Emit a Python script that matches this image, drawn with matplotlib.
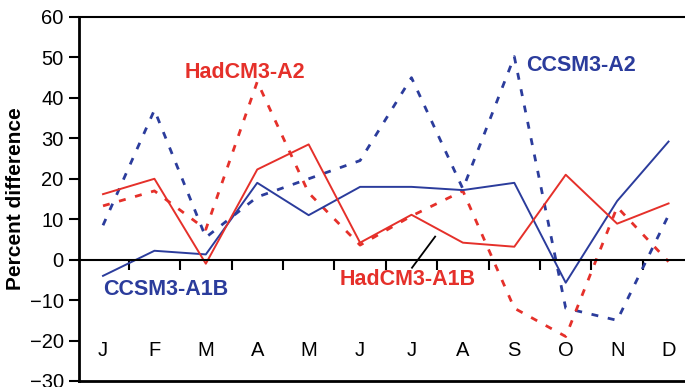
import matplotlib
matplotlib.use("Agg")
import matplotlib.pyplot as plt
import numpy as np

plt.rcParams["font.family"] = ["Liberation Sans", "DejaVu Sans"]

months = ["J", "F", "M", "A", "M", "J", "J", "A", "S", "O", "N", "D"]
ccsm3_a1b = [-4, 2.2, 1.3, 19, 11, 18, 18, 17.2, 19, -5.7, 14.5, 29.2]
hadcm3_a1b = [16.2, 20, -1, 22.3, 28.5, 4.2, 11.1, 4.2, 3.2, 21, 8.9, 13.9]
hadcm3_a2 = [13.3, 17, 7.5, 44, 16.5, 3.6, 10.8, 17, -12, -19, 13, -0.5]
ccsm3_a2 = [8.5, 37, 5.5, 15.5, 20, 24.5, 45, 17.5, 50.2, -12, -15, 11]

red = "#e5302a"
blue = "#2b3c9c"

fig = plt.figure(figsize=(6.85, 3.87), dpi=100)
ax = fig.add_axes([79/685, 1-381/387, 1-79/685, (381-17)/387])
x = np.arange(len(months))

ax.plot(x, ccsm3_a2, color=blue, lw=2.0, ls=(0, (2.5, 3.5)))
ax.plot(x, hadcm3_a2, color=red, lw=2.0, ls=(0, (2.5, 3.5)))
ax.plot(x, ccsm3_a1b, color=blue, lw=1.4)
ax.plot(x, hadcm3_a1b, color=red, lw=1.4)

ax.set_xlim(-0.467, 11.32)
ax.set_ylim(-30, 60)
ax.set_yticks(np.arange(-30, 61, 10))
ax.set_yticklabels([("\u2212%d" % abs(v)) if v < 0 else str(v) for v in range(-30, 61, 10)],
                   fontsize=14.5)
ax.tick_params(axis="y", direction="out", length=7, width=1.5, pad=4)

ax.spines["right"].set_visible(False)
ax.spines["left"].set_linewidth(2)
ax.spines["top"].set_linewidth(1.5)
ax.spines["bottom"].set_position(("data", 0))
ax.spines["bottom"].set_linewidth(1.5)
ax.set_xticks(x[:-1] + 0.5)
ax.set_xticklabels([])
ax.tick_params(axis="x", direction="out", length=7, width=1.5)
ax.axhline(-30, color="black", lw=2, clip_on=False)

for xi, m in zip(x, months):
    ax.text(xi, -22.5, m, ha="center", va="center", fontsize=14.5)

ax.set_ylabel("Percent difference", fontsize=15, fontweight="bold", labelpad=3)

ax.text(2.76, 46.3, "HadCM3-A2", color=red, fontsize=15.5, fontweight="bold", ha="center", va="center")
ax.text(9.3, 48.0, "CCSM3-A2", color=blue, fontsize=15.5, fontweight="bold", ha="center", va="center")
ax.text(1.23, -7.4, "CCSM3-A1B", color=blue, fontsize=15.5, fontweight="bold", ha="center", va="center")
ax.text(5.93, -5.0, "HadCM3-A1B", color=red, fontsize=15.5, fontweight="bold", ha="center", va="center")
ax.plot([6.01, 6.46], [-2.0, 5.7], color="black", lw=1.3)

fig.savefig("out.png", dpi=100)
